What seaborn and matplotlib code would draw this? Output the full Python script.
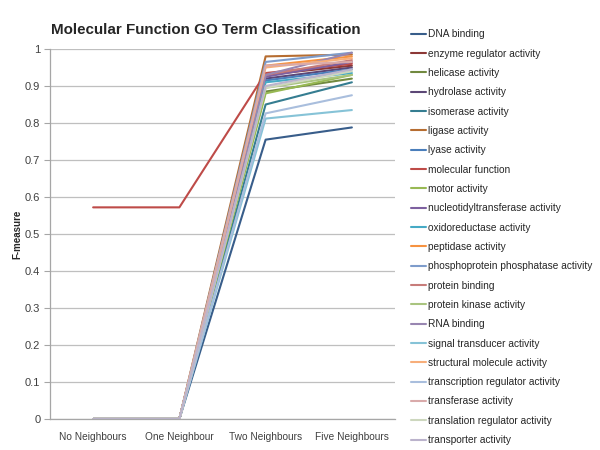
import matplotlib
matplotlib.use('Agg')
import matplotlib.pyplot as plt
import seaborn as sns
import pandas as pd

# ── data ──────────────────────────────────────────────────────────────
neighbours = ['No Neighbours', 'One Neighbour', 'Two Neighbours', 'Five Neighbours']

terms = ['DNA binding', 'enzyme regulator activity', 'helicase activity',
         'hydrolase activity', 'isomerase activity', 'ligase activity',
         'lyase activity', 'molecular function', 'motor activity',
         'nucleotidyltransferase activity', 'oxidoreductase activity',
         'peptidase activity', 'phosphoprotein phosphatase activity',
         'protein binding', 'protein kinase activity', 'RNA binding',
         'signal transducer activity', 'structural molecule activity',
         'transcription regulator activity', 'transferase activity',
         'translation regulator activity', 'transporter activity']

no_neighbours = [0, 0, 0, 0, 0, 0, 0, 0.572, 0, 0, 0,
                 0, 0, 0, 0, 0, 0, 0, 0, 0, 0, 0]
one_neighbour = [0, 0, 0, 0, 0, 0, 0, 0.572, 0, 0, 0,
                 0, 0, 0, 0, 0, 0, 0, 0, 0, 0, 0]
two_neighbours = [0.755, 0.930, 0.885, 0.920, 0.850, 0.980, 0.915, 0.935, 0.880, 0.925, 0.910,
                  0.955, 0.965, 0.930, 0.895, 0.930, 0.812, 0.950, 0.826, 0.955, 0.895, 0.900]
five_neighbours = [0.788, 0.955, 0.920, 0.950, 0.910, 0.985, 0.945, 0.960, 0.930, 0.965, 0.935,
                   0.980, 0.990, 0.970, 0.930, 0.990, 0.835, 0.975, 0.875, 0.965, 0.940, 0.945]

colors = ['#385D8A', '#8C3836', '#71893F', '#5C4776', '#357D91', '#B66D31',
          '#4A7EBB', '#BE4B48', '#98B954', '#7D60A0', '#46AAC5', '#F69240',
          '#7E9CCB', '#C77C7A', '#A9C47F', '#9886B1', '#86C3D7', '#F7AE7A',
          '#A9BEDD', '#D9AAAA', '#CDD7BE', '#BBB3CC']

rows = []
for i, t in enumerate(terms):
    for n, vals in zip(neighbours, [no_neighbours, one_neighbour, two_neighbours, five_neighbours]):
        rows.append({'term': t, 'neighbours': n, 'F-measure': vals[i]})
df = pd.DataFrame(rows)
df['neighbours'] = pd.Categorical(df['neighbours'], categories=neighbours, ordered=True)

# ── plot ──────────────────────────────────────────────────────────────
sns.set_style('white')
plt.rcParams['font.family'] = ['Liberation Sans', 'DejaVu Sans']

fig = plt.figure(figsize=(6, 4.5), dpi=100)
ax = fig.add_axes([50 / 600, 1 - 419 / 450, 345 / 600, 370 / 450])

sns.lineplot(data=df, x='neighbours', y='F-measure', hue='term', hue_order=terms,
             palette=dict(zip(terms, colors)), sort=False, linewidth=1.5,
             legend='full', ax=ax)

ax.set_xlim(-0.5, 3.5)
ax.set_ylim(0, 1)
ax.set_yticks([i / 10 for i in range(11)])
ax.set_yticklabels(['0', '0.1', '0.2', '0.3', '0.4', '0.5', '0.6', '0.7', '0.8', '0.9', '1'])
ax.yaxis.grid(True, color='#BFBFBF', linewidth=0.9)
ax.xaxis.grid(False)
for s in ['top', 'right']:
    ax.spines[s].set_visible(False)
for s in ['left', 'bottom']:
    ax.spines[s].set_color('#A6A6A6')
    ax.spines[s].set_linewidth(0.9)
ax.tick_params(axis='y', length=4, color='#A6A6A6', labelsize=8, labelcolor='#404040',
               left=True, pad=3)
ax.tick_params(axis='x', length=0, labelsize=7.3, labelcolor='#404040', pad=9)
ax.set_xlabel('')
ax.set_ylabel('F-measure', fontsize=7, fontweight='bold', labelpad=2)

sns.move_legend(ax, 'upper left', bbox_to_anchor=(0.679, 0.944),
                bbox_transform=fig.transFigure, frameon=False, title=None,
                fontsize=7.3, handlelength=1.45, handletextpad=0.2,
                labelspacing=0.92, borderaxespad=0, labelcolor='#262626')

fig.text(0.343, 0.933, 'Molecular Function GO Term Classification',
         ha='center', va='center', fontsize=10.9, fontweight='bold')

fig.savefig('out.png', dpi=100)
